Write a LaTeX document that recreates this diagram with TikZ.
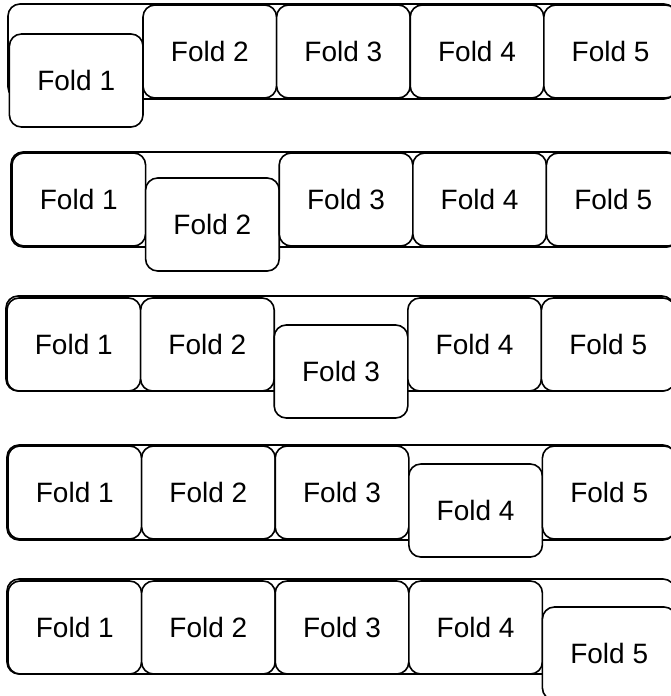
\documentclass[tikz,border=0pt]{standalone}
\usepackage{fontspec}
\setmainfont{Liberation Sans}
\usetikzlibrary{positioning}

\begin{document}
\begin{tikzpicture}[
  x=1pt, y=-1pt,
  node distance=0pt,
  frame/.style={
    draw, line width=1.6pt, rounded corners=12pt, minimum width=668pt,
    minimum height=95pt, inner sep=0pt, outer sep=0pt, anchor=north west,
  },
  fold/.style={
    draw, line width=1.6pt, rounded corners=12pt, minimum width=133.6pt,
    minimum height=93pt, inner sep=0pt, outer sep=0pt, anchor=north west,
    fill=white, font=\fontsize{28}{32}\selectfont,
  },
]
\useasboundingbox (0,0) rectangle (671,696);
\clip (0,0) rectangle (671,696);

% row 1: fold 1 held out
\node[frame] (row1) at (8,4) {};
\node[fold] (r1f2) at (143,5) {Fold 2};
\node[fold, right=of r1f2] (r1f3) {Fold 3};
\node[fold, right=of r1f3] (r1f4) {Fold 4};
\node[fold, right=of r1f4] (r1f5) {Fold 5};
\node[fold, left=of r1f2, yshift=-29pt] (r1f1) {Fold 1};

% row 2: fold 2 held out
\node[frame] (row2) at (11,152) {};
\node[fold] (r2f1) at (12,153) {Fold 1};
\node[fold, right=of r2f1, yshift=-25pt] (r2f2) {Fold 2};
\node[fold, right=of r2f2, yshift=25pt] (r2f3) {Fold 3};
\node[fold, right=of r2f3] (r2f4) {Fold 4};
\node[fold, right=of r2f4] (r2f5) {Fold 5};

% row 3: fold 3 held out
\node[frame] (row3) at (6,296) {};
\node[fold] (r3f1) at (7,298) {Fold 1};
\node[fold, right=of r3f1] (r3f2) {Fold 2};
\node[fold, right=of r3f2, yshift=-27pt] (r3f3) {Fold 3};
\node[fold, right=of r3f3, yshift=27pt] (r3f4) {Fold 4};
\node[fold, right=of r3f4] (r3f5) {Fold 5};

% row 4: fold 4 held out
\node[frame] (row4) at (7,445) {};
\node[fold] (r4f1) at (8,446) {Fold 1};
\node[fold, right=of r4f1] (r4f2) {Fold 2};
\node[fold, right=of r4f2] (r4f3) {Fold 3};
\node[fold, right=of r4f3, yshift=-18pt] (r4f4) {Fold 4};
\node[fold, right=of r4f4, yshift=18pt] (r4f5) {Fold 5};

% row 5: fold 5 held out
\node[frame] (row5) at (7,579) {};
\node[fold] (r5f1) at (8,581) {Fold 1};
\node[fold, right=of r5f1] (r5f2) {Fold 2};
\node[fold, right=of r5f2] (r5f3) {Fold 3};
\node[fold, right=of r5f3] (r5f4) {Fold 4};
\node[fold, right=of r5f4, yshift=-26pt] (r5f5) {Fold 5};

\end{tikzpicture}
\end{document}
